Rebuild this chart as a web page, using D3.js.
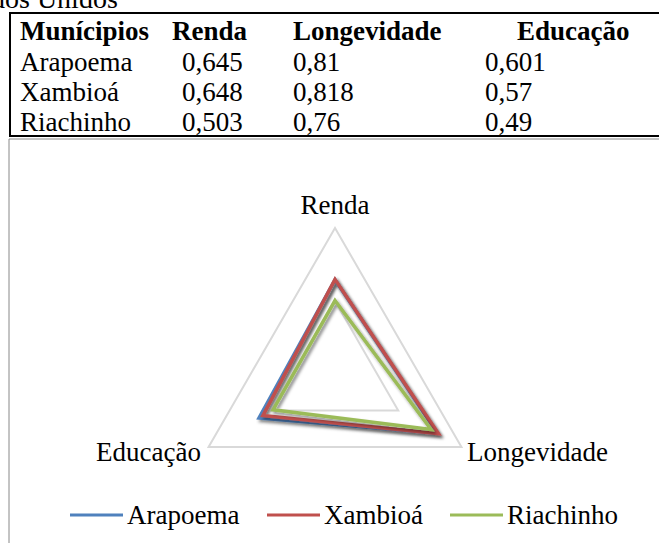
<!DOCTYPE html>
<meta charset="utf-8">
<title>IDH - radar</title>
<style>
body { margin: 0; background: #fff; }
svg { display: block; }
text { font-family: "Liberation Serif", "Times New Roman", serif; fill: #000; }
</style>
<body>
<script src="https://cdn.jsdelivr.net/npm/d3@7"></script>
<script>
var width = 659, height = 543;

// data
var indicadores = ["Renda", "Longevidade", "Educação"];
var municipios = ["Arapoema", "Xambioá", "Riachinho"];
var arapoema = [0.645, 0.81, 0.601];
var xambioa = [0.648, 0.818, 0.57];
var riachinho = [0.503, 0.76, 0.49];
var gridTicks = [0.5, 1];
var cores = ["#4f81bd", "#c0504d", "#9bbb59"];

var series = [arapoema, xambioa, riachinho];
var fmt = function(v) { return String(v).replace(".", ","); };
var fs = "27px";

var svg = d3.select("body").append("svg")
    .attr("width", width)
    .attr("height", height);

var defs = svg.append("defs");
var f = defs.append("filter").attr("id", "sombra")
    .attr("x", "-20%").attr("y", "-20%").attr("width", "140%").attr("height", "140%");
f.append("feDropShadow")
    .attr("dx", 2).attr("dy", 2.5).attr("stdDeviation", 1.6)
    .attr("flood-color", "#000").attr("flood-opacity", 0.45);

// cropped heading above the table (cut off in the original too)
svg.append("text").attr("x", -9).attr("y", 8)
    .style("font-size", "28px").text("dos Unidos");

// table
var tabela = svg.append("g");
tabela.append("rect")
    .attr("x", 10).attr("y", 13).attr("width", 680).attr("height", 123)
    .attr("fill", "none").attr("stroke", "#000").attr("stroke-width", 2);

var colX = [20, 172, 293, 517];
var valX = [20, 182, 293, 485];
var cab = ["Munícipios"].concat(indicadores);
tabela.selectAll("text.cab")
    .data(cab)
  .enter().append("text")
    .attr("class", "cab")
    .attr("x", function(d, i) { return colX[i]; })
    .attr("y", 40)
    .style("font-size", fs).style("font-weight", "bold")
    .text(function(d) { return d; });

municipios.forEach(function(m, r) {
  var linha = [m].concat(series[r].map(fmt));
  tabela.selectAll("text.l" + r)
      .data(linha)
    .enter().append("text")
      .attr("class", "l" + r)
      .attr("x", function(d, i) { return valX[i]; })
      .attr("y", 71 + r * 30)
      .style("font-size", fs)
      .text(function(d) { return d; });
});

// chart area border
svg.append("path")
    .attr("d", "M9,543V139H700")
    .attr("fill", "none").attr("stroke", "#888").attr("stroke-width", 1);

// radar
var cx = 335, cy = 374;
var r = d3.scaleLinear().domain([0, 1]).range([0, 146]);
var angulo = function(k) { return indicadores.indexOf(k) * 120 * Math.PI / 180; };

var radar = svg.append("g").attr("transform", "translate(" + cx + "," + cy + ")");
var linha = d3.lineRadial()
    .angle(function(d, i) { return angulo(indicadores[i]); })
    .radius(function(d) { return r(d); })
    .curve(d3.curveLinearClosed);

radar.selectAll("path.grid")
    .data(gridTicks)
  .enter().append("path")
    .attr("class", "grid")
    .attr("d", function(t) { return linha(indicadores.map(function() { return t; })); })
    .attr("fill", "none").attr("stroke", "#d9d9d9").attr("stroke-width", 2);

radar.selectAll("path.serie")
    .data(series)
  .enter().append("path")
    .attr("class", "serie")
    .attr("d", linha)
    .attr("fill", "none")
    .attr("stroke", function(d, i) { return cores[i]; })
    .attr("stroke-width", 3.5)
    .attr("stroke-linejoin", "miter")
    .attr("filter", "url(#sombra)");

// axis labels
var rotulos = [
  { t: "Renda", x: cx, y: 214, a: "middle" },
  { t: "Longevidade", x: 467, y: 461, a: "start" },
  { t: "Educação", x: 201, y: 461, a: "end" }
];
svg.selectAll("text.eixo")
    .data(rotulos)
  .enter().append("text")
    .attr("class", "eixo")
    .attr("x", function(d) { return d.x; })
    .attr("y", function(d) { return d.y; })
    .attr("text-anchor", function(d) { return d.a; })
    .style("font-size", fs)
    .text(function(d) { return d.t; });

// legend
var legX = [70, 267, 450];
var leg = svg.selectAll("g.leg")
    .data(municipios)
  .enter().append("g")
    .attr("class", "leg")
    .attr("transform", function(d, i) { return "translate(" + legX[i] + ",515)"; });
leg.append("line")
    .attr("x1", 0).attr("x2", 53)
    .attr("stroke", function(d, i) { return cores[i]; })
    .attr("stroke-width", 3);
leg.append("text")
    .attr("x", 57).attr("y", 9)
    .style("font-size", fs)
    .text(function(d) { return d; });
</script>
</body>
